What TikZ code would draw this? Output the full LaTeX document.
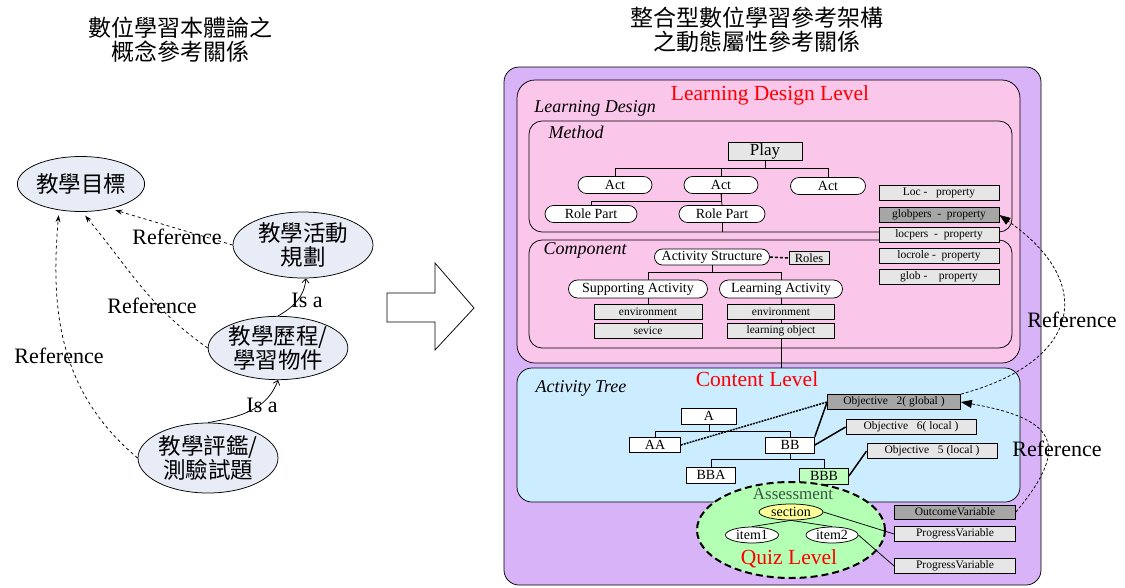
\documentclass[tikz,border=0pt]{standalone}
\usepackage{fontspec}
\setmainfont{Liberation Serif}
\newfontfamily\cjk{Noto Sans CJK TC}
\usetikzlibrary{shapes.geometric,shapes.misc,arrows.meta}

\definecolor{lilac}{RGB}{217,179,247}
\definecolor{ldpink}{RGB}{250,198,234}
\definecolor{cntblue}{RGB}{204,236,255}
\definecolor{quizgreen}{RGB}{179,255,179}
\definecolor{bbbgreen}{RGB}{190,255,190}
\definecolor{secyellow}{RGB}{255,255,153}
\definecolor{conceptblue}{RGB}{231,236,247}
\definecolor{boxgray}{RGB}{230,230,230}
\definecolor{darkbox}{RGB}{166,166,166}
\definecolor{asmtext}{RGB}{60,84,70}

\newcommand{\fsz}[1]{\fontsize{#1}{#1}\selectfont}

\tikzset{every picture/.style={line width=0.75pt}}

\begin{document}
\begin{tikzpicture}[x=1pt,y=1pt,yscale=-1,xscale=1,
  concept/.style={ellipse, draw, fill=conceptblue, align=center, inner sep=0pt, font=\cjk\fontsize{22.5}{24}\selectfont},
  cjktitle/.style={align=center, font=\cjk\fontsize{23}{24}\selectfont},
  pill/.style={rounded rectangle, draw, fill=white, inner sep=0pt, minimum height=17, font=\fsz{14}},
  graybox/.style={draw, fill=boxgray, inner sep=0pt, minimum height=15, font=\fsz{11.5}},
  darkgraybox/.style={graybox, fill=darkbox},
  propbox/.style={graybox, minimum width=120},
  treebox/.style={draw, fill=white, inner sep=0pt, minimum height=16, font=\fsz{14}},
  refarrow/.style={dashed, -{Stealth[length=7pt,width=5pt]}, shorten >=5pt},
  isarrow/.style={-{Straight Barb[length=4pt,width=7pt]}},
  bigref/.style={dash pattern=on 3pt off 2pt, -{Triangle[length=11pt,width=8pt]}},
  levellabel/.style={text=red, font=\fsz{21.5}},
  itlabel/.style={font=\itshape\fsz{18}},
  reflabel/.style={font=\fsz{22}},
  ]
\useasboundingbox (0,0) rectangle (1125,587);

	% Text Node
	\node[cjktitle] (lefttitle) at (180,40) {數位學習本體論之\\概念參考關係};
	\node[cjktitle] (righttitle) at (757,30) {整合型數位學習參考架構\\之動態屬性參考關係};

	%Shape: Ellipse
	\node[concept, minimum width=124, minimum height=55] (goal) at (81,184) {教學目標};
	\node[concept, minimum width=140, minimum height=66] (plan) at (303,245) {教學活動\\規劃};
	\node[concept, minimum width=132, minimum height=62] (proc) at (278,348) {教學歷程/\\學習物件};
	\node[concept, minimum width=140, minimum height=70] (eval) at (208,458) {教學評鑑/\\測驗試題};

	%Curve Lines
	\draw[refarrow] (plan.west) -- (goal.-40);
	\draw[refarrow] (proc.west) to[out=215, in=50] (goal.-88);
	\draw[refarrow] (eval.west) to[out=220, in=95] (goal.-130);
	\draw[isarrow] (proc.north) to[out=-30, in=95] (plan.-85);
	\draw[isarrow] (eval.north) to[out=-10, in=110] (proc.south);

	% Text Node
	\node[reflabel] (ref1) at (177,237) {Reference};
	\node[reflabel] (ref2) at (152,306) {Reference};
	\node[reflabel] (ref3) at (59,356) {Reference};
	\node[reflabel] (isa1) at (307,300) {Is a};
	\node[reflabel] (isa2) at (262,405) {Is a};

	%Shape: Right Arrow
	\draw (387,293) -- (435,293) -- (435,263) -- (474,308) -- (435,350) -- (435,322) -- (387,322) -- cycle;

	%Shape: Rounded Rectangles
	\draw[fill=lilac, rounded corners=15] (504,67) rectangle (1041,585);
	\draw[fill=ldpink, rounded corners=18] (517,80) rectangle (1020,363);
	\draw[fill=ldpink, rounded corners=13] (529,121) rectangle (1012,232);
	\draw[fill=ldpink, rounded corners=13] (529,240) rectangle (1012,348);
	\draw[fill=cntblue, rounded corners=15] (517,368) rectangle (1020,502);

	% Text Node
	\node[levellabel] (ldlevel) at (770,95) {Learning Design Level};
	\node[itlabel] (ldname) at (595,108) {Learning Design};
	\node[itlabel] (methname) at (576,132) {Method};
	\node[itlabel] (compname) at (585,250) {Component};
	\node[levellabel] (cntlevel) at (757,379) {Content Level};
	\node[itlabel] (treename) at (581,388) {Activity Tree};

	% Method
	\node[graybox, minimum width=74, minimum height=18, font=\fsz{17}] (play) at (765,151) {Play};
	\node[pill, minimum width=74] (act1) at (615,185) {Act};
	\node[pill, minimum width=74] (act2) at (721,185) {Act};
	\node[pill, minimum width=75] (act3) at (828,186) {Act};
	\node[pill, minimum width=92] (rp1) at (591,214) {Role Part};
	\node[pill, minimum width=86] (rp2) at (722,214) {Role Part};
	\coordinate (methbot) at (722,232);
	\draw (play.south) -- ++(0,8) -| (act1.north);
	\draw (play.south) ++(0,8) -| (act2.north);
	\draw (play.south) ++(0,8) -| (act3.north);
	\draw (act2.south) -- ++(0,7) -| (rp1.north);
	\draw (act2.south) -- (rp2.north);
	\draw (rp2.south) -- (methbot);

	% Component
	\node[pill, minimum width=115, minimum height=16] (actstruct) at (712,257) {Activity Structure};
	\node[graybox, minimum width=40, minimum height=13, font=\fsz{12.5}] (roles) at (809,258) {Roles};
	\node[pill, minimum width=139, minimum height=18] (supact) at (638,289) {Supporting Activity};
	\node[pill, minimum width=123, minimum height=18] (lrnact) at (781,289) {Learning Activity};
	\node[graybox, minimum width=108] (senv) at (648,312) {environment};
	\node[graybox, minimum width=108] (sserv) at (648,331) {sevice};
	\node[graybox, minimum width=107] (lenv) at (781,312) {environment};
	\node[graybox, minimum width=107] (lobj) at (781,331) {learning object};
	\coordinate (cnttop) at (781,368);
	\draw[line width=1.5pt, dash pattern=on 3pt off 2pt] (actstruct.east) -- (roles.west);
	\draw (actstruct.south) -- ++(0,7) -| (supact.north -| senv.north);
	\draw (actstruct.south) ++(0,7) -| (lrnact.north);
	\draw (supact.south -| senv.north) -- (senv.north);
	\draw (senv.south) -- (sserv.north);
	\draw (lrnact.south) -- (lenv.north);
	\draw (lenv.south) -- (lobj.north);
	\draw (lobj.south) -- (cnttop);

	% Properties
	\node[propbox] (locprop) at (939,193) {Loc -\ \ \ property};
	\node[propbox, fill=darkbox] (gpers) at (939,215) {globpers\ \ -\ \ property};
	\node[propbox] (lpers) at (939,235) {locpers\ \ -\ \ property};
	\node[propbox] (lrole) at (939,256) {locrole -\ \ property};
	\node[propbox] (globprop) at (939,277) {glob -\ \ \ \ property};

	% Activity Tree
	\node[treebox, minimum width=55] (a) at (709,416) {A};
	\node[treebox, minimum width=51, minimum height=15] (aa) at (655,445) {AA};
	\node[treebox, minimum width=49] (bb) at (790,445) {BB};
	\node[treebox, minimum width=49] (bba) at (711,475) {BBA};
	\node[treebox, minimum width=49, fill=bbbgreen] (bbb) at (824,476) {BBB};
	\draw (a.south) -- ++(0,7) -| (aa.north);
	\draw (a.south) ++(0,7) -| (bb.north);
	\draw (bb.south) -- ++(0,6) -| (bba.north);
	\draw (bb.south) ++(0,6) -| (bbb.north);

	\node[darkgraybox, minimum width=133] (obj2) at (894,402) {Objective\ \ \ 2( global )};
	\node[graybox, minimum width=130] (obj6) at (911,427) {Objective\ \ \ 6( local )};
	\node[graybox, minimum width=130] (obj5) at (932,451) {Objective\ \ \ 5 (local )};
	\draw[line width=1.5pt, dash pattern=on 2pt off 1pt] (aa.east) -- (obj2.west);
	\draw[line width=1.5pt] (bb.north east) -- (obj2.west);
	\draw[line width=1.5pt] (bb.east) -- (obj6.west);
	\draw[line width=1.5pt] (bbb.east) -- (obj5.west);

	% Quiz
	\node[ellipse, draw, fill=quizgreen, line width=2pt, dash pattern=on 7pt off 4pt, minimum width=188, minimum height=96] (quiz) at (791,530) {};
	\node[text=asmtext, font=\fsz{17}] (asm) at (793,494) {Assessment};
	\node[ellipse, draw, fill=secyellow, inner sep=0pt, minimum width=64, minimum height=16, font=\fsz{14}] (sec) at (791,512) {section};
	\node[ellipse, draw, fill=white, inner sep=0pt, minimum width=53, minimum height=16, font=\fsz{14}] (item1) at (752,535) {item1};
	\node[ellipse, draw, fill=white, inner sep=0pt, minimum width=52, minimum height=16, font=\fsz{14}] (item2) at (832,535) {item2};
	\node[levellabel] (qlevel) at (789,559) {Quiz Level};
	\draw (sec.south) -- (item1.north);
	\draw (sec.south) -- (item2.north);

	\node[darkgraybox, minimum width=121, minimum height=14] (ov) at (955,512) {OutcomeVariable};
	\node[graybox, minimum width=121] (pv1) at (955,534) {ProgressVariable};
	\node[graybox, minimum width=121] (pv2) at (955,566) {ProgressVariable};
	\draw (sec.east) -- (pv1.west);
	\draw (item2.east) -- (pv2.west);

	% Reference
	\draw[bigref] (obj2.north east) to[out=-15, in=35, looseness=1.7] (gpers.east);
	\draw[bigref] (ov.east) to[out=-50, in=10, looseness=1.9] (obj2.east);
	\node[reflabel] (ref4) at (1072,320) {Reference};
	\node[reflabel] (ref5) at (1057,449) {Reference};

\end{tikzpicture}
\end{document}
